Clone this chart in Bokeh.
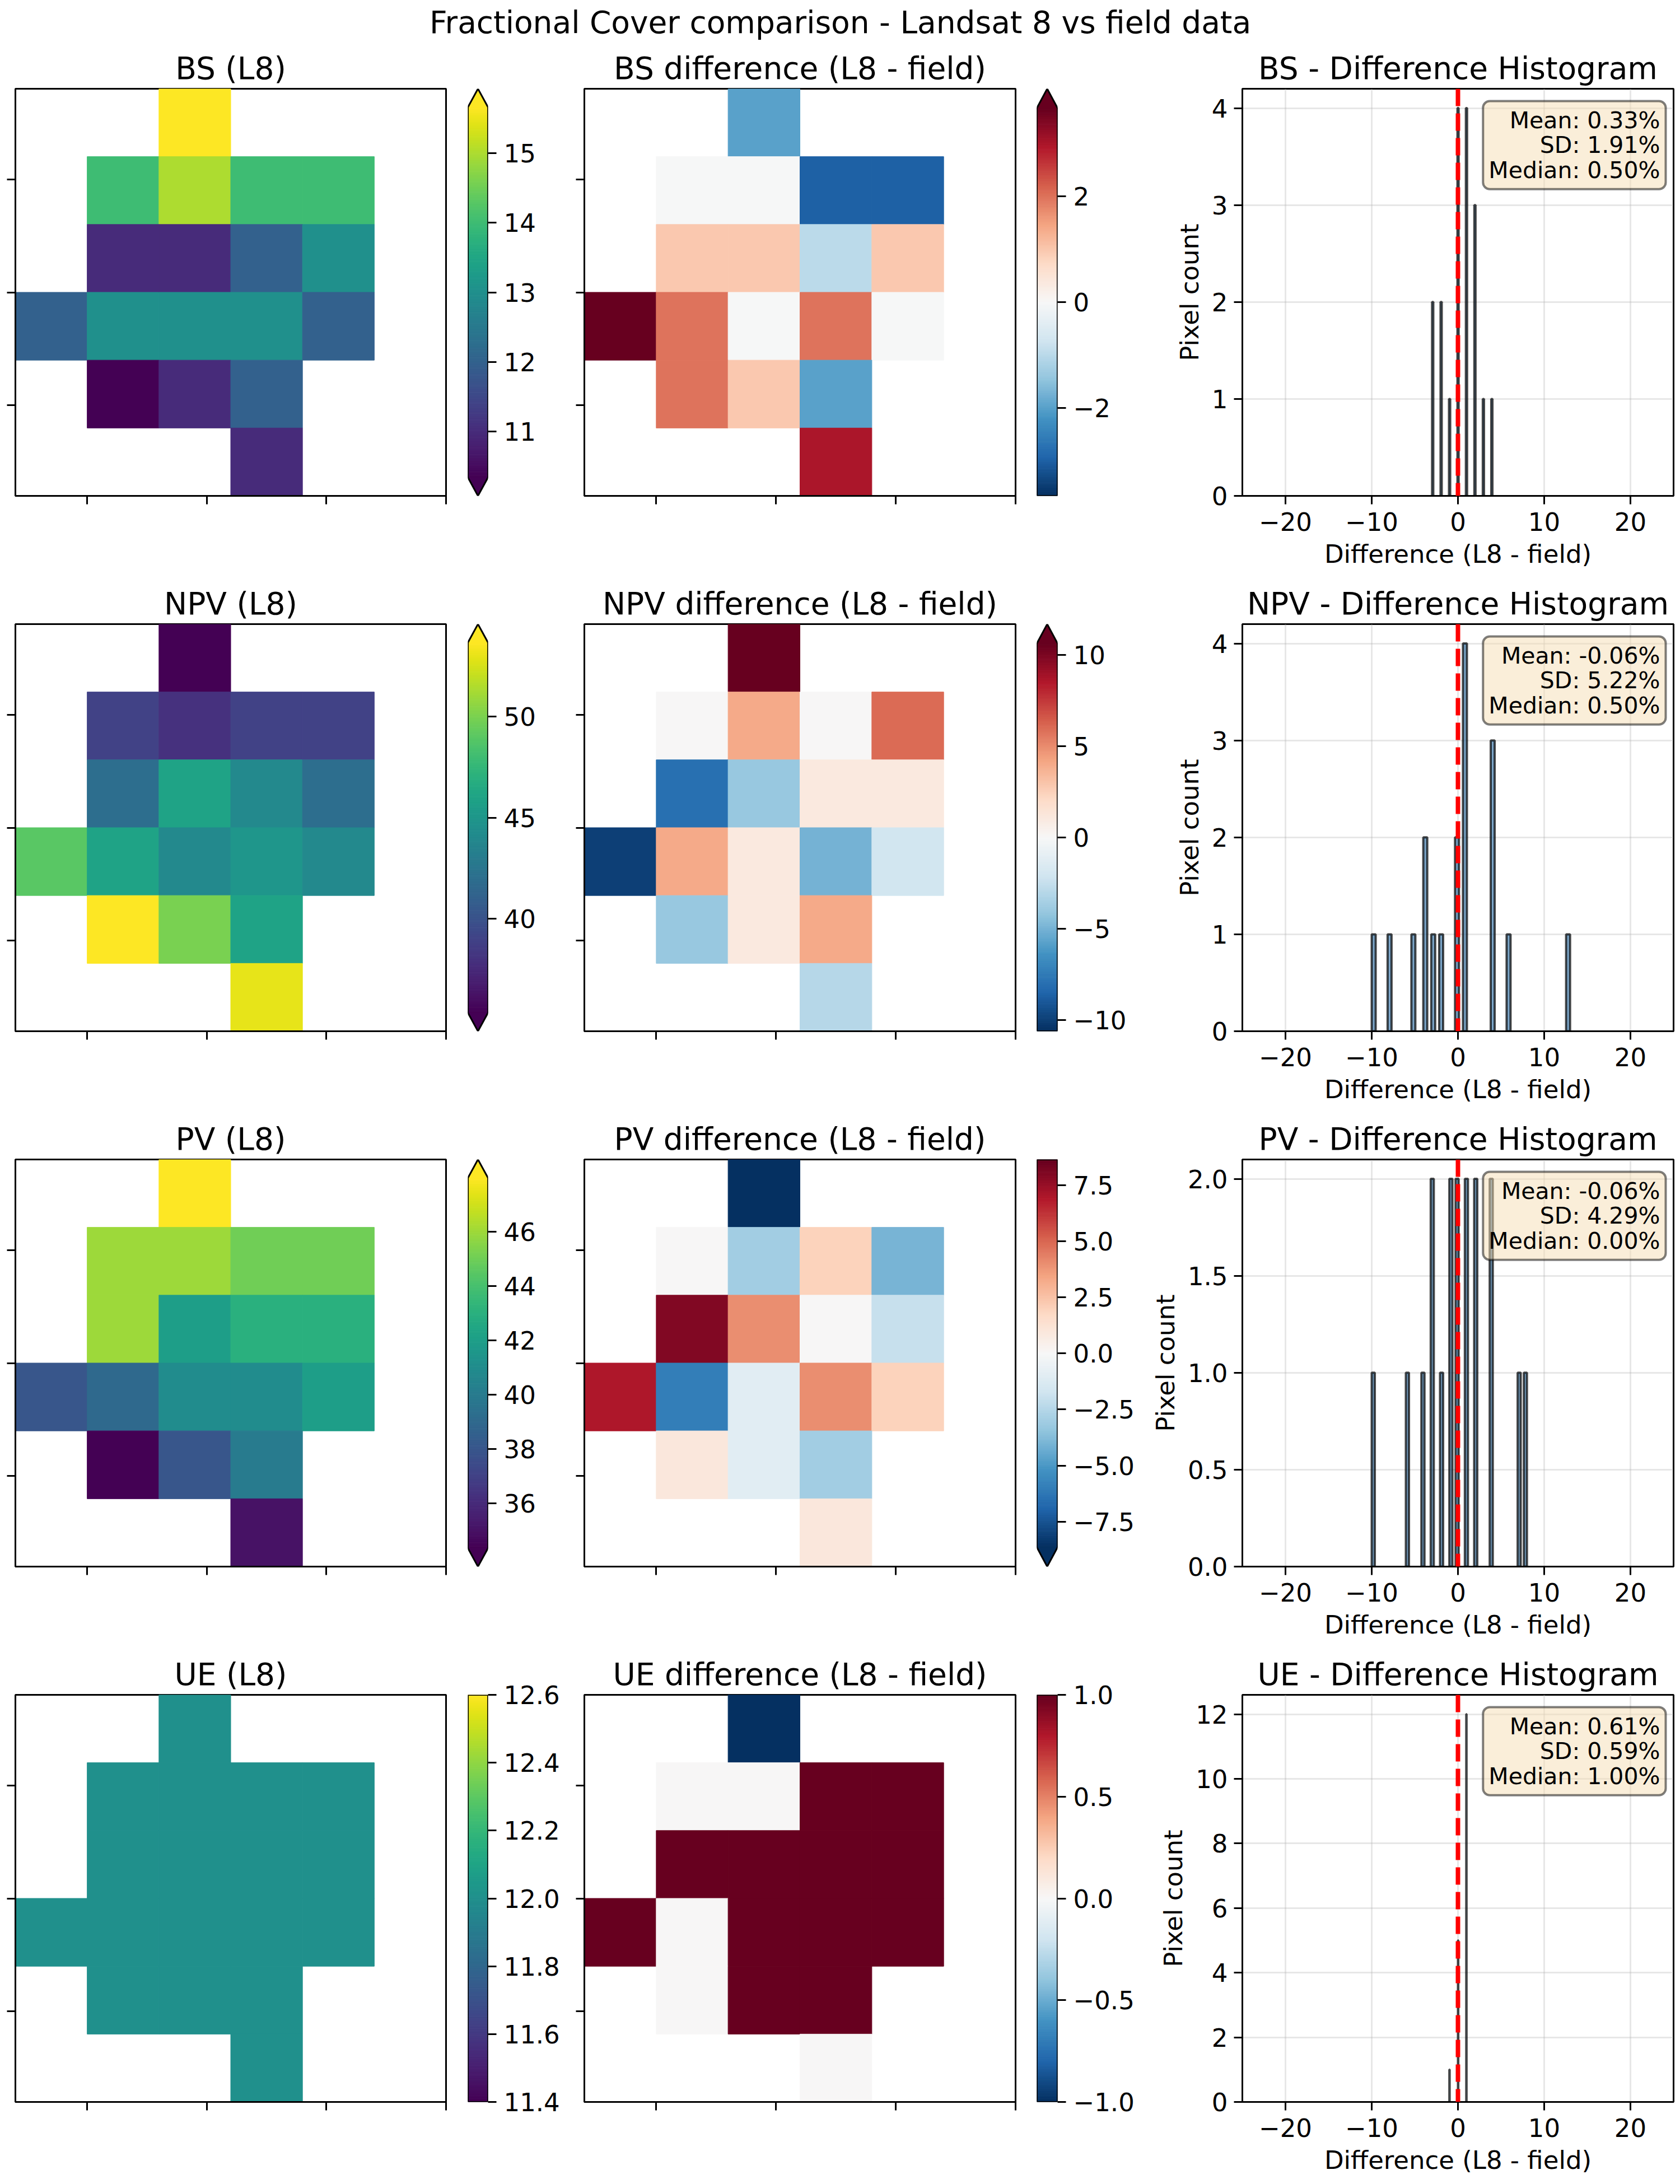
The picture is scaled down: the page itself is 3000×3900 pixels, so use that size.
import numpy as np
from bokeh.plotting import figure
from bokeh.layouts import row, column
from bokeh.models import (Range1d, LinearColorMapper, FixedTicker, Span, Label,
                          ColumnDataSource, CustomJSTickFormatter)
from bokeh.palettes import Viridis256
from bokeh.embed import file_html
from bokeh.resources import INLINE

# ---------------------------------------------------------------- data
SUPTITLE = "Fractional Cover comparison - Landsat 8 vs field data"
COMPONENTS = ["BS", "NPV", "PV", "UE"]
N = None

BS_L8 = [
    [N, N, 16, N, N, N],
    [N, 14, 15, 14, 14, N],
    [N, 11, 11, 12, 13, N],
    [12, 13, 13, 13, 12, N],
    [N, 10, 11, 12, N, N],
    [N, N, N, 11, N, N],
]
BS_DIFF = [
    [N, N, -2, N, N, N],
    [N, 0, 0, -3, -3, N],
    [N, 1, 1, -1, 1, N],
    [4, 2, 0, 2, 0, N],
    [N, 2, 1, -2, N, N],
    [N, N, N, 3, N, N],
]
NPV_L8 = [
    [N, N, 34, N, N, N],
    [N, 39, 38, 39, 39, N],
    [N, 42, 46, 44, 42, N],
    [49, 46, 44, 45, 44, N],
    [N, 54, 50, 46, N, N],
    [N, N, N, 53, N, N],
]
NPV_DIFF = [
    [N, N, 13, N, N, N],
    [N, 0, 4, 0, 6, N],
    [N, -8, -4, 1, 1, N],
    [-10, 4, 1, -5, -2, N],
    [N, -4, 1, 4, N, N],
    [N, N, N, -3, N, N],
]
PV_L8 = [
    [N, N, 49, N, N, N],
    [N, 46, 46, 45, 45, N],
    [N, 46, 42, 43, 43, N],
    [38, 39, 41, 41, 42, N],
    [N, 34, 38, 40, N, N],
    [N, N, N, 35, N, N],
]
PV_DIFF = [
    [N, N, -10, N, N, N],
    [N, 0, -3, 2, -4, N],
    [N, 8, 4, 0, -2, N],
    [7, -6, -1, 4, 2, N],
    [N, 1, -1, -3, N, N],
    [N, N, N, 1, N, N],
]
UE_L8 = [
    [N, N, 12, N, N, N],
    [N, 12, 12, 12, 12, N],
    [N, 12, 12, 12, 12, N],
    [12, 12, 12, 12, 12, N],
    [N, 12, 12, 12, N, N],
    [N, N, N, 12, N, N],
]
UE_DIFF = [
    [N, N, -1, N, N, N],
    [N, 0, 0, 1, 1, N],
    [N, 1, 1, 1, 1, N],
    [1, 0, 1, 1, 1, N],
    [N, 0, 1, 1, N, N],
    [N, N, N, 0, N, N],
]
L8_GRIDS = [BS_L8, NPV_L8, PV_L8, UE_L8]
DIFF_GRIDS = [BS_DIFF, NPV_DIFF, PV_DIFF, UE_DIFF]

CB_L8_TICKS = [[11, 12, 13, 14, 15], [40, 45, 50], [36, 38, 40, 42, 44, 46],
               [11.4, 11.6, 11.8, 12.0, 12.2, 12.4, 12.6]]
CB_L8_DEC = [0, 0, 0, 1]
CB_DIFF_TICKS = [[-2, 0, 2], [-10, -5, 0, 5, 10], [-7.5, -5, -2.5, 0, 2.5, 5, 7.5],
                 [-1, -0.5, 0, 0.5, 1]]
CB_DIFF_DEC = [0, 0, 1, 1]
HIST_YTICKS = [[0, 1, 2, 3, 4], [0, 1, 2, 3, 4], [0, 0.5, 1, 1.5, 2], [0, 2, 4, 6, 8, 10, 12]]
HIST_YDEC = [0, 0, 1, 0]
HIST_XTICKS = [-20, -10, 0, 10, 20]
HEAT_XTICKS = [1, 2.667, 4.333, 6]
HEAT_YTICKS = [1.333, 3.0, 4.667]

# ---------------------------------------------------------------- style
FONT = "DejaVu Sans"
TITLE_PX = "55px"
TICK_PX = "45px"
STAT_PX = "41px"
SUP_H = 78
SUP_Y = 39
TOP = 80
FRAME_H = 727
BOTTOM = 149
LAST_BOTTOM = 147

RDBU_R_11 = ["#053061", "#2166ac", "#4393c3", "#92c5de", "#d1e5f0", "#f7f7f7",
             "#fddbc7", "#f4a582", "#d6604d", "#b2182b", "#67001f"]


def interp_palette(colors, n=256):
    rgb = np.array([[int(c[i:i + 2], 16) for i in (1, 3, 5)] for c in colors], float)
    out = []
    for i in range(n):
        t = i / (n - 1) * (len(colors) - 1)
        k = min(int(np.floor(t)), len(colors) - 2)
        f = t - k
        c = rgb[k] * (1 - f) + rgb[k + 1] * f
        out.append("#%02x%02x%02x" % tuple(int(round(v)) for v in c))
    return out


RDBU_R = interp_palette(RDBU_R_11)
VIRIDIS = list(Viridis256)


def fmt(dec):
    return CustomJSTickFormatter(args=dict(dec=dec),
                                 code="return tick.toFixed(dec).replace('-', '\u2212');")


def style_axis(ax, ticks, formatter):
    ax.ticker = FixedTicker(ticks=ticks)
    ax.formatter = formatter
    ax.major_tick_out = 15
    ax.major_tick_in = 0
    ax.minor_tick_line_color = None
    ax.major_tick_line_width = 3
    ax.major_tick_line_color = "black"
    ax.axis_line_width = 3
    ax.axis_line_color = "black"
    ax.major_label_text_font = FONT
    ax.major_label_text_font_size = TICK_PX
    ax.major_label_text_color = "black"
    ax.major_label_standoff = 11


def values_of(grid):
    return np.array([v for r in grid for v in r if v is not None], float)


def base_fig(width, height, left, right, top, bottom, xr, yr, **kw):
    p = figure(width=width, height=height, x_range=xr, y_range=yr,
               toolbar_location=None, output_backend="svg",
               min_border_left=left, min_border_right=right,
               min_border_top=top, min_border_bottom=bottom, **kw)
    p.background_fill_color = "white"
    p.border_fill_color = "white"
    return p


def set_title(p, text):
    p.title.text = text
    p.title.align = "center"
    p.title.text_font = FONT
    p.title.text_font_size = TITLE_PX
    p.title.text_font_style = "normal"
    p.title.text_color = "black"


def heat_fig(title, grid, mapper, left, frame_w, top, bottom):
    nrows = len(grid)
    ncols = len(grid[0])
    p = base_fig(left + frame_w + 2, top + FRAME_H + bottom, left, 2, top, bottom,
                 Range1d(0, ncols), Range1d(0, nrows))
    set_title(p, title)
    xs, ys, vs = [], [], []
    for r, rv in enumerate(grid):
        for c, v in enumerate(rv):
            if v is not None:
                xs.append(c + 0.5)
                ys.append(nrows - 1 - r + 0.5)
                vs.append(v)
    src = ColumnDataSource(dict(x=xs, y=ys, v=vs))
    p.rect(x="x", y="y", width=1, height=1, source=src,
           fill_color={"field": "v", "transform": mapper},
           line_color={"field": "v", "transform": mapper}, line_width=1)
    p.grid.visible = False
    empty = CustomJSTickFormatter(code="return '';")
    style_axis(p.xaxis[0], HEAT_XTICKS, empty)
    style_axis(p.yaxis[0], HEAT_YTICKS, empty)
    p.xaxis.major_label_standoff = 0
    p.yaxis.major_label_standoff = 0
    p.outline_line_color = "black"
    p.outline_line_width = 3
    p.outline_line_alpha = 1
    return p


def colorbar_fig(low, high, palette, ext_lo, ext_hi, ticks, dec, left, frame_w, right,
                 top, bottom):
    e = 0.05 * (high - low)
    y0 = low - (e if ext_lo else 0)
    y1 = high + (e if ext_hi else 0)
    p = base_fig(left + frame_w + right, top + FRAME_H + bottom, left, right, top, bottom,
                 Range1d(0, 1), Range1d(y0, y1),
                 x_axis_location=None, y_axis_location="right")
    edges = np.linspace(low, high, len(palette) + 1)
    p.quad(left=0, right=1, bottom=edges[:-1], top=edges[1:],
           fill_color=palette, line_color=palette, line_width=1)
    ox = [0, 0]
    oy = [low, high]
    if ext_hi:
        p.patch([0, 1, 0.5], [high, high, y1], fill_color=palette[-1], line_color=palette[-1],
                line_width=1)
        ox += [0.5]
        oy += [y1]
    ox += [1, 1]
    oy += [high, low]
    if ext_lo:
        p.patch([0, 1, 0.5], [low, low, y0], fill_color=palette[0], line_color=palette[0],
                line_width=1)
        ox += [0.5]
        oy += [y0]
    ox += [0]
    oy += [low]
    p.line(ox, oy, line_color="black", line_width=3, line_join="miter")
    p.grid.visible = False
    p.outline_line_color = None
    style_axis(p.yaxis[0], ticks, fmt(dec))
    p.yaxis.axis_line_color = None
    p.yaxis.major_label_standoff = 13
    return p


def hist_fig(comp, diffs, yticks, ydec, top, bottom):
    vals = values_of(diffs)
    counts, edges = np.histogram(vals, bins=50)
    ymax = counts.max() * 1.05
    p = base_fig(180 + 770 + 12, top + FRAME_H + bottom, 180, 12, top, bottom,
                 Range1d(-25, 25), Range1d(0, ymax))
    set_title(p, f"{comp} - Difference Histogram")
    keep = counts > 0
    p.quad(left=edges[:-1][keep], right=edges[1:][keep], bottom=0, top=counts[keep],
           fill_color="steelblue", fill_alpha=0.7, line_color="black", line_alpha=0.7,
           line_width=4)
    p.add_layout(Span(location=0, dimension="height", line_color="red", line_width=8,
                      line_dash="31 13"))
    style_axis(p.xaxis[0], HIST_XTICKS, fmt(0))
    style_axis(p.yaxis[0], yticks, fmt(ydec))
    p.xaxis.major_label_standoff = 14
    for ax, lab, so in ((p.xaxis[0], "Difference (L8 - field)", 12),
                        (p.yaxis[0], "Pixel count", 10)):
        ax.axis_label = lab
        ax.axis_label_text_font = FONT
        ax.axis_label_text_font_size = TICK_PX
        ax.axis_label_text_font_style = "normal"
        ax.axis_label_text_color = "black"
        ax.axis_label_standoff = so
    p.grid.grid_line_color = "#b0b0b0"
    p.grid.grid_line_alpha = 0.3
    p.grid.grid_line_width = 3
    p.outline_line_color = "black"
    p.outline_line_width = 3
    p.outline_line_alpha = 1
    mean = vals.mean()
    sd = vals.std()
    med = np.median(vals)
    txt = f"Mean: {mean:.2f}%\nSD: {sd:.2f}%\nMedian: {med:.2f}%"
    p.add_layout(Label(x=25, y=ymax, x_offset=-14, y_offset=-22, text=txt,
                       text_align="right", text_baseline="top", text_font=FONT,
                       text_font_size=STAT_PX, text_line_height=0.93, text_color="black",
                       background_fill_color="wheat", background_fill_alpha=0.5,
                       border_line_color="black", border_line_alpha=0.5,
                       border_line_width=4, padding=10, border_radius=12))
    return p


# ---------------------------------------------------------------- build
sup = figure(width=3000, height=SUP_H, x_range=Range1d(0, 3000), y_range=Range1d(0, SUP_H),
             toolbar_location=None, output_backend="svg", min_border=0, title=None,
             x_axis_location=None, y_axis_location=None)
sup.min_border_left = sup.min_border_right = sup.min_border_top = sup.min_border_bottom = 0
sup.grid.visible = False
sup.outline_line_color = None
sup.add_layout(Label(x=1500, y=SUP_Y, text=SUPTITLE, text_align="center",
                     text_baseline="alphabetic", text_font=FONT, text_font_size=TITLE_PX,
                     text_color="black"))

rows = [sup]
for i, comp in enumerate(COMPONENTS):
    top = TOP
    bottom = LAST_BOTTOM if i == len(COMPONENTS) - 1 else BOTTOM

    l8 = values_of(L8_GRIDS[i])
    lo, hi = np.percentile(l8, 2), np.percentile(l8, 98)
    if lo == hi:
        lo, hi = lo - 0.05 * abs(lo), hi + 0.05 * abs(hi)
    m1 = LinearColorMapper(palette=VIRIDIS, low=lo, high=hi,
                           low_color=VIRIDIS[0], high_color=VIRIDIS[-1])
    fa = heat_fig(f"{comp} (L8)", L8_GRIDS[i], m1, 27, 769, top, bottom)
    cba = colorbar_fig(lo, hi, VIRIDIS, l8.min() < lo, l8.max() > hi,
                       CB_L8_TICKS[i], CB_L8_DEC[i], 37, 36, 142, top, bottom)

    d = values_of(DIFF_GRIDS[i])
    vl = max(abs(np.percentile(d, 2)), abs(np.percentile(d, 98)))
    m2 = LinearColorMapper(palette=RDBU_R, low=-vl, high=vl,
                           low_color=RDBU_R[0], high_color=RDBU_R[-1])
    fb = heat_fig(f"{comp} difference (L8 - field)", DIFF_GRIDS[i], m2, 30, 770, top, bottom)
    cbb = colorbar_fig(-vl, vl, RDBU_R, d.min() < -vl, d.max() > vl,
                       CB_DIFF_TICKS[i], CB_DIFF_DEC[i], 36, 37, 150, top, bottom)

    fh = hist_fig(comp, DIFF_GRIDS[i], HIST_YTICKS[i], HIST_YDEC[i], top, bottom)
    rows.append(row(fa, cba, fb, cbb, fh))

layout = column(*rows)
with open("out.html", "w", encoding="utf-8") as f:
    f.write(file_html(layout, INLINE, title="Fractional Cover comparison"))
